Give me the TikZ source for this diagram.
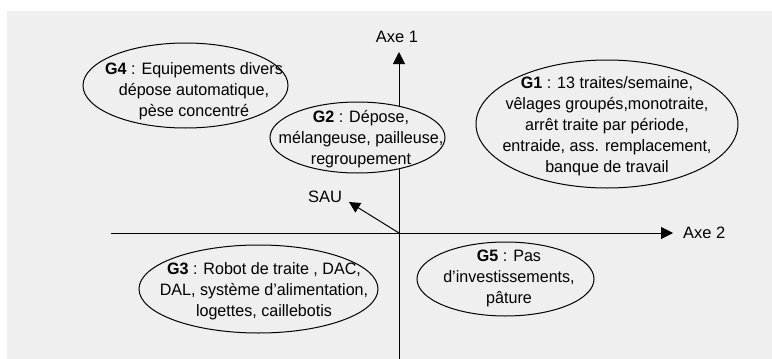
\documentclass[tikz,border=0pt]{standalone}
\usepackage{fontspec}
\setmainfont{Liberation Sans}[FakeStretch=0.975]
\newfontfamily\axfont{Liberation Sans}
\usetikzlibrary{shapes.geometric,arrows.meta}
\definecolor{bg}{RGB}{239,239,239}
\begin{document}
\begin{tikzpicture}[x=1pt,y=-1pt,
  grp/.style={draw,ellipse,inner sep=0pt,line width=1pt},
  gtext/.style={align=center,font=\fontsize{16.5}{21}\selectfont,inner sep=0pt},
  axlab/.style={font=\axfont\fontsize{16.5}{18}\selectfont,inner sep=0pt},
  axline/.style={line width=1pt},
  axis/.style={line width=1pt,-{Triangle[length=12pt,width=12pt]}}]
\useasboundingbox (0,0) rectangle (772,359);
\fill[bg] (7,11) rectangle (772,359);
% axes
\coordinate (O) at (399,233);
\coordinate (ybot) at (399,359);
\coordinate (ytop) at (399,52);
\coordinate (xleft) at (111,233);
\coordinate (xright) at (673,233);
\draw[axline] (ybot) -- (O);
\draw[axis] (O) -- (ytop);
\draw[axline] (xleft) -- (O);
\draw[axis] (O) -- (xright);
\node[axlab,anchor=west] (axe2) at (683,233) {Axe 2};
\node[axlab] (axe1) at (397,37) {Axe 1};
\node[axlab] (sau) at (325,197) {SAU};
\coordinate (sautip) at (349,202);
\draw[line width=1pt,-{Triangle[length=11pt,width=11pt]}] (O) -- (sautip);
% groups
\node[grp,fill=bg,minimum width=175pt,minimum height=71pt] (e2) at (357.5,137.5) {};
\node[gtext] (t2) at (361,139) {\textbf{G2} : Dépose,\\mélangeuse, pailleuse,\\regroupement};
\node[grp,minimum width=205pt,minimum height=85pt] (e4) at (185.5,85.5) {};
\node[gtext] (t4) at (194,91) {\textbf{G4} : Equipements divers\\dépose automatique,\\pèse concentré};
\node[grp,minimum width=262pt,minimum height=128pt] (e1) at (607,124) {};
\node[gtext] (t1) at (607,126) {\textbf{G1} : 13 traites/semaine,\\vêlages groupés,monotraite,\\arrêt traite par période,\\entraide, ass. remplacement,\\banque de travail};
\node[grp,minimum width=239pt,minimum height=88pt] (e3) at (258.5,289) {};
\node[gtext] (t3) at (264,291) {\textbf{G3} : Robot de traite , DAC,\\DAL, système d'alimentation,\\logettes, caillebotis};
\node[grp,minimum width=177pt,minimum height=74pt] (e5) at (505.5,279) {};
\node[gtext] (t5) at (509,278) {\textbf{G5} : Pas\\d'investissements,\\pâture};
\end{tikzpicture}
\end{document}
